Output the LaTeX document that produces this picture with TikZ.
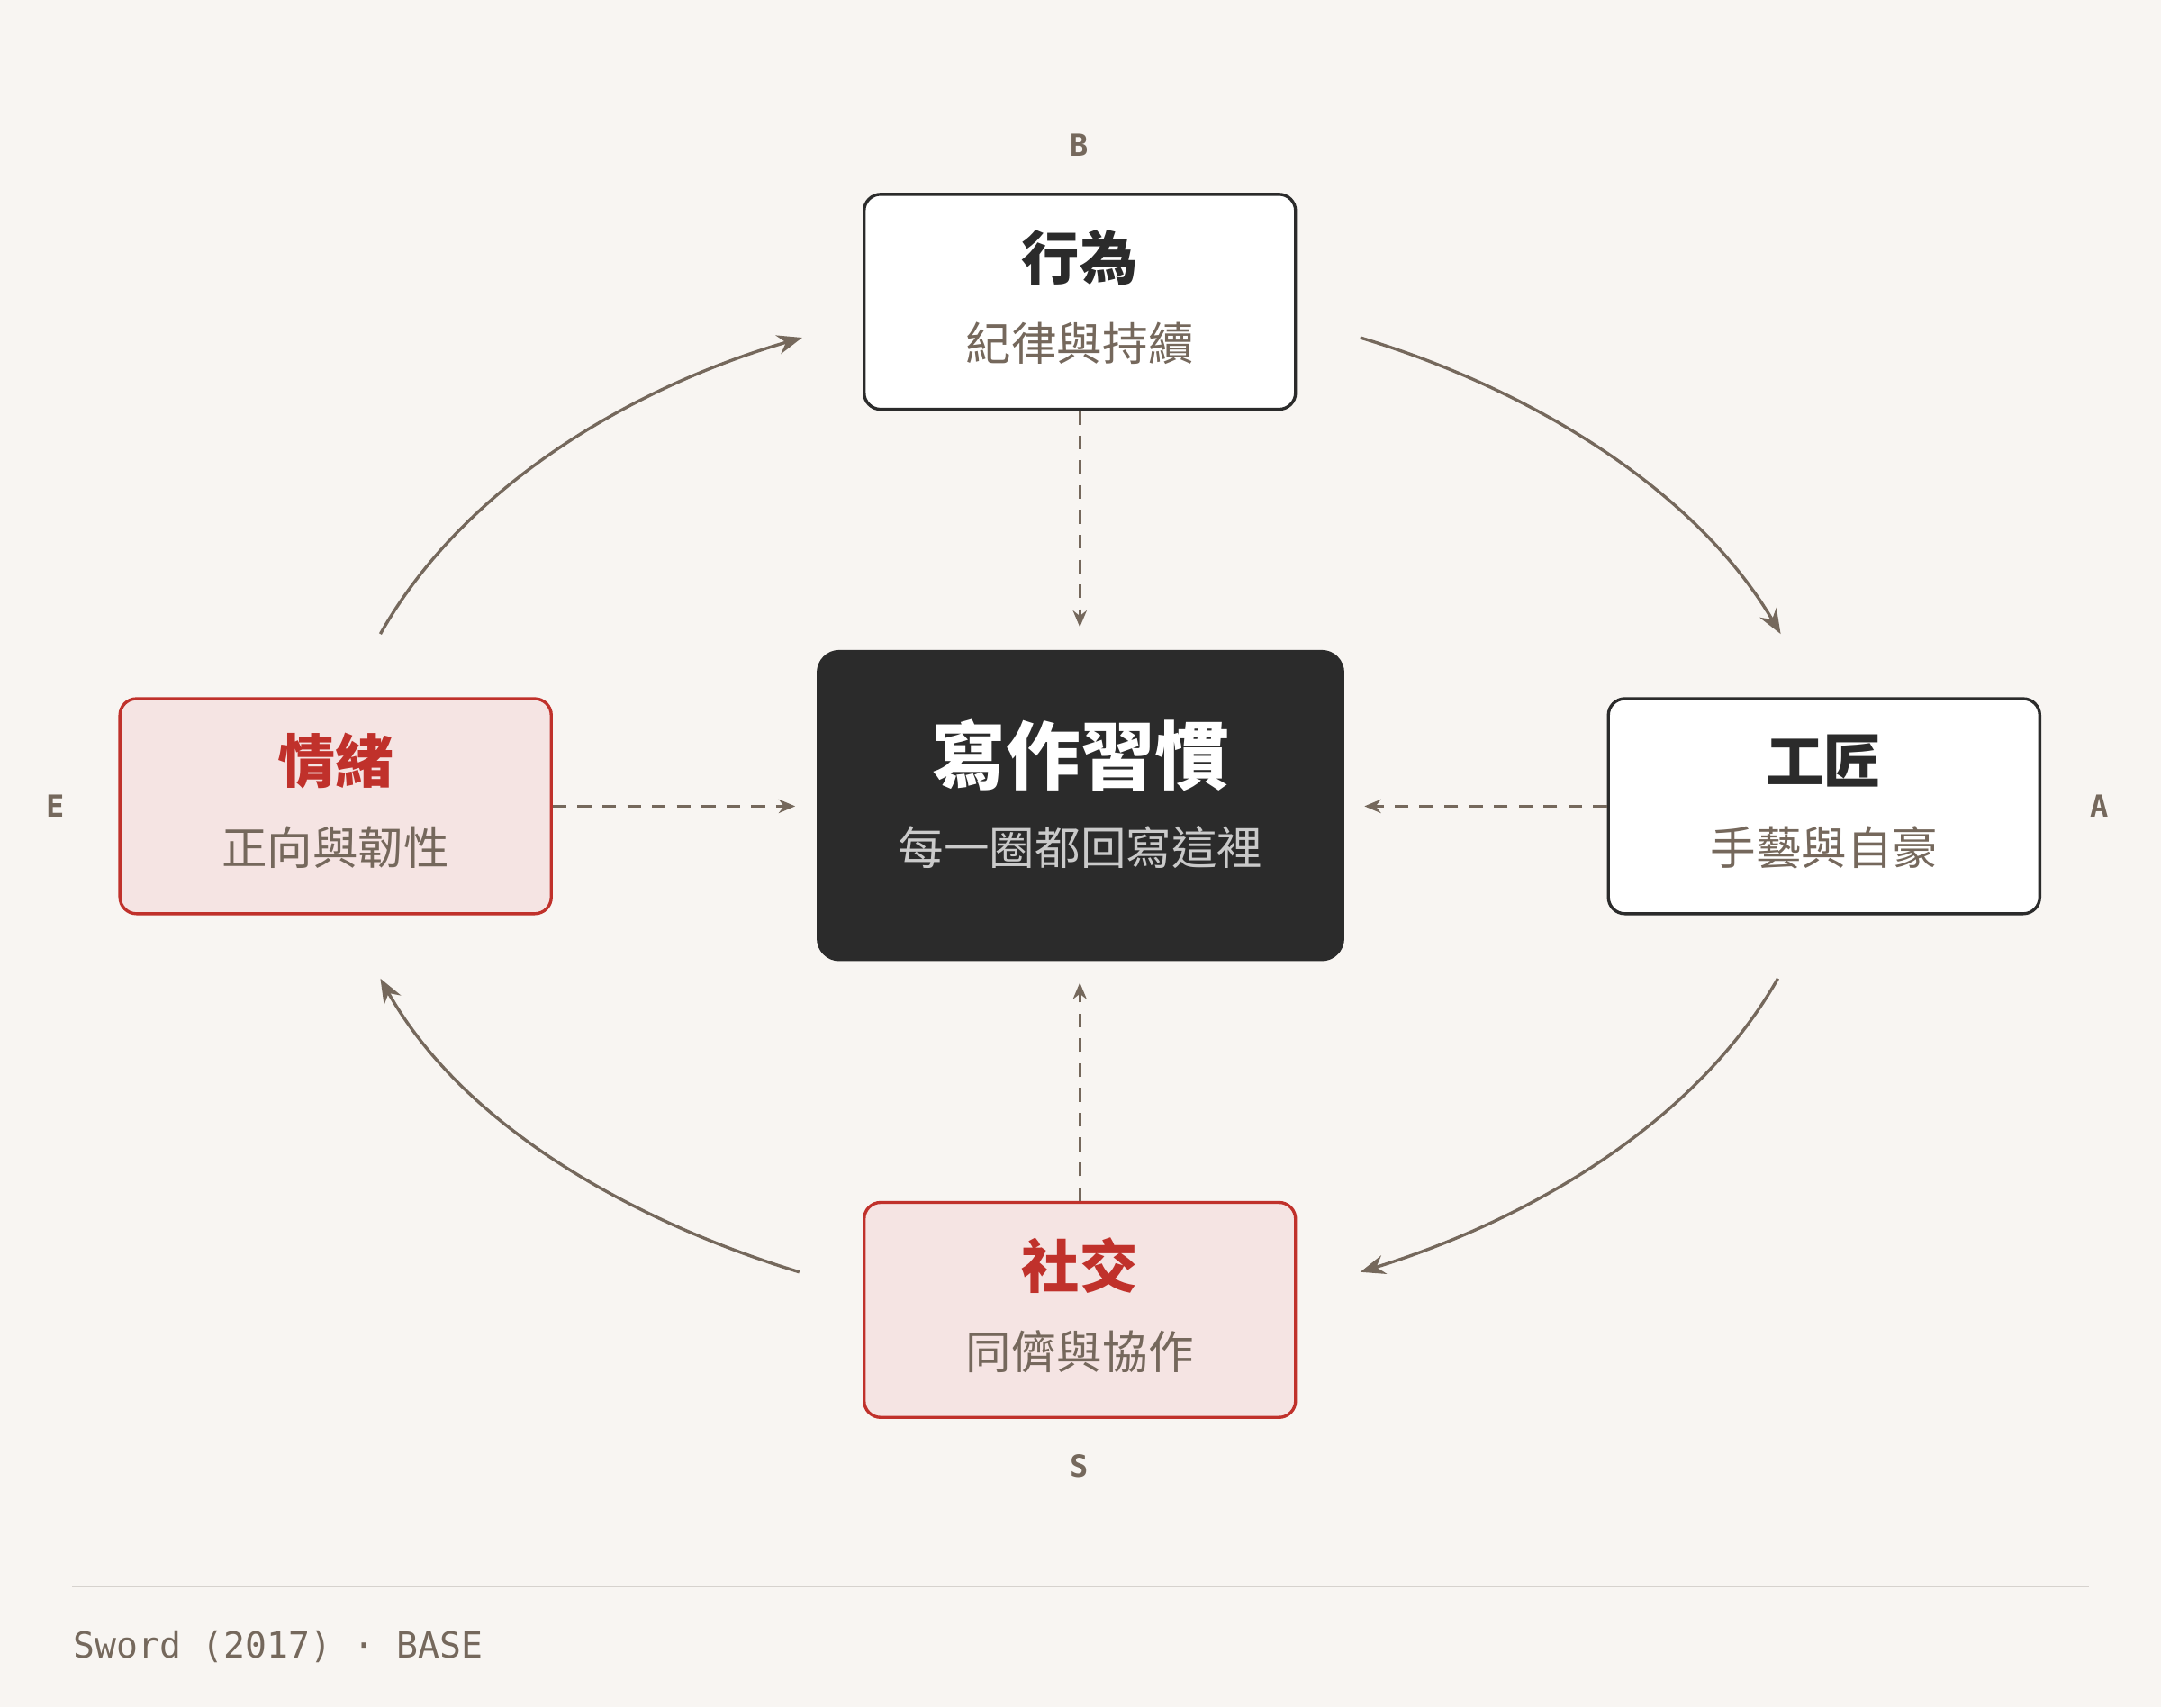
\documentclass[tikz,border=0pt]{standalone}
\usepackage{fontspec}
\newfontfamily\cjk{Noto Sans CJK TC}
\newcommand\cjkb{\cjk\bfseries}
\setmonofont{DejaVu Sans Mono}
\usetikzlibrary{arrows.meta}
\definecolor{bg}{HTML}{F8F5F2}
\definecolor{ink}{HTML}{2B2B2B}
\definecolor{brn}{HTML}{75685C}
\definecolor{redc}{HTML}{C0312B}
\definecolor{pink}{HTML}{F5E4E3}
\begin{document}
\begin{tikzpicture}[x=0.5pt,y=-0.5pt,
 box/.style={draw=ink,fill=white,line width=1.1pt,rounded corners=6pt,minimum width=156.5pt,minimum height=78pt},
 rbox/.style={box,draw=redc,fill=pink},
 ttl/.style={font=\cjkb\fontsize{21}{21}\selectfont,text=ink},
 sub/.style={font=\cjk\fontsize{16.5}{16.5}\selectfont,text=brn},
 lab/.style={font=\ttfamily\bfseries\fontsize{11}{11}\selectfont,text=brn},
 dsh/.style={draw=brn,line width=0.9pt,dash pattern=on 5pt off 4pt,-{Stealth[length=6pt,width=5pt]}},
 arc/.style={draw=brn,line width=1.1pt,-{Stealth[length=9pt,width=7pt]}}]
\fill[bg] (0,0) rectangle (1568,1239);
\useasboundingbox (0,0) rectangle (1568,1239);
% boxes
\node[box] (B) at (783.5,219) {};
\node[ttl] (Bt) at (783.5,187) {行為};
\node[sub] (Bs) at (783.5,249) {紀律與持續};
\node[draw=ink,fill=ink,rounded corners=8pt,minimum width=191pt,minimum height=112.5pt] (C) at (784,584.5) {};
\node[ttl,text=white,font=\cjkb\fontsize{27}{27}\selectfont] (Ct) at (784,548) {寫作習慣};
\node[sub,text=white!75!ink] (Cs) at (784,615) {每一圈都回寫這裡};
\node[box] (A) at (1323.5,585) {};
\node[ttl] (At) at (1323.5,552) {工匠};
\node[sub] (As) at (1323.5,615) {手藝與自豪};
\node[rbox] (E) at (243.5,585) {};
\node[ttl,text=redc] (Et) at (243.5,552) {情緒};
\node[sub] (Es) at (243.5,615) {正向與韌性};
\node[rbox] (S) at (783.5,950.5) {};
\node[ttl,text=redc] (St) at (783.5,918) {社交};
\node[sub] (Ss) at (783.5,981) {同儕與協作};
% letters
\node[lab] (lB) at (783,105) {B};
\node[lab] (lA) at (1523,585) {A};
\node[lab] (lE) at (40,585) {E};
\node[lab] (lS) at (783,1064) {S};
% dashed
\coordinate (c1) at (783.5,455);
\coordinate (c2) at (577,585);
\coordinate (c3) at (990,585);
\coordinate (c4) at (783.5,713);
\draw[dsh] (B.south) -- (c1);
\draw[dsh] (E.east) -- (c2);
\draw[dsh] (A.west) -- (c3);
\draw[dsh] (S.north) -- (c4);
% arcs
\coordinate (p1) at (987,245); \coordinate (p2) at (1292,460);
\coordinate (p3) at (1290,710); \coordinate (p4) at (987,923);
\coordinate (p5) at (580,923); \coordinate (p6) at (276,710);
\coordinate (p7) at (276,460); \coordinate (p8) at (582,245);
\draw[arc] (p1) .. controls (1110,282) and (1230,355) .. (p2);
\draw[arc] (p3) .. controls (1230,815) and (1110,885) .. (p4);
\draw[arc] (p5) .. controls (455,885) and (335,815) .. (p6);
\draw[arc] (p7) .. controls (335,355) and (455,282) .. (p8);
% footer
\coordinate (f1) at (52,1151); \coordinate (f2) at (1516,1151);
\draw[draw=brn!30,line width=0.7pt] (f1) -- (f2);
\node[anchor=west,font=\ttfamily\fontsize{13}{13}\selectfont,text=brn] (ft) at (46,1195) {Sword (2017) · BASE};
\end{tikzpicture}
\end{document}
